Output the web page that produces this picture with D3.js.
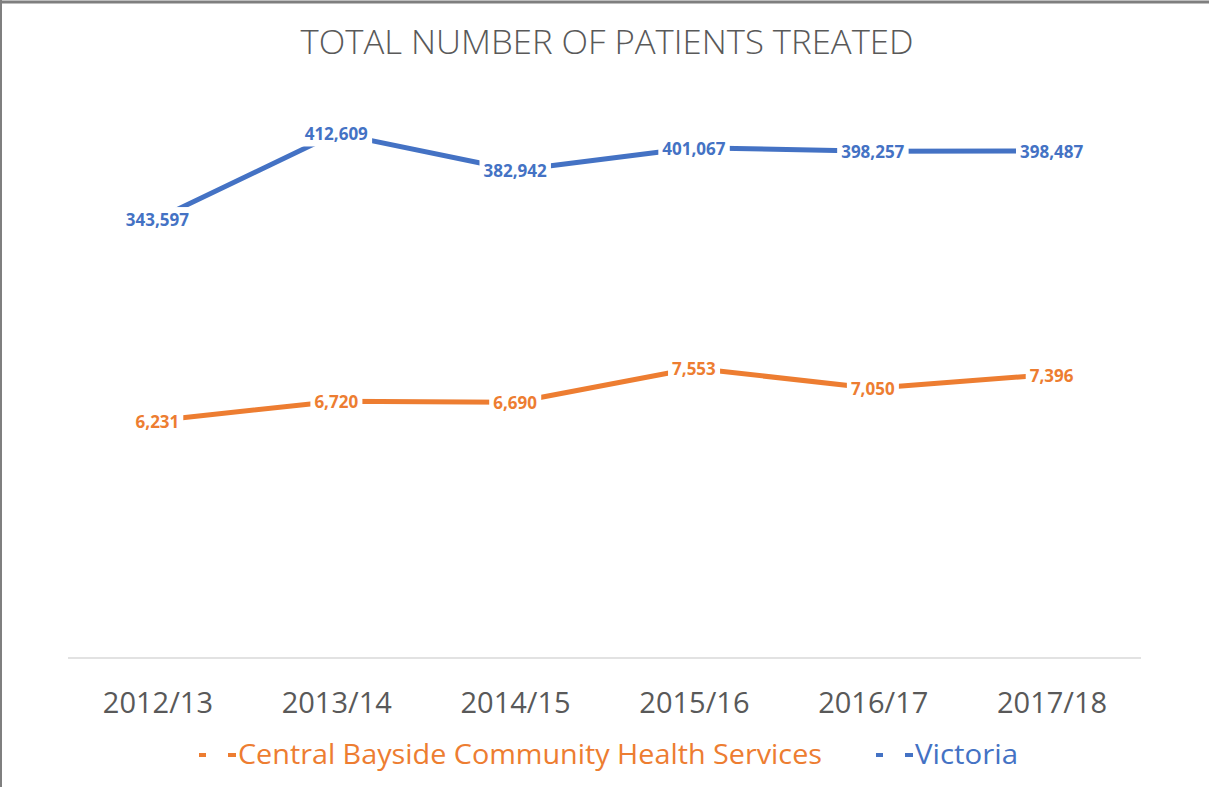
<html lang="en">
<head>
    <title>Total number of patients treated</title>
    <script src="https://d3js.org/d3.v7.min.js" charset="utf-8"></script>
    <style>
        body {
            margin: 0;
            background: #ffffff;
            font-family: "Open Sans", "Noto Sans", sans-serif;
        }
    </style>
</head>
<body>
<script>
    // data
    var years = ["2012/13", "2013/14", "2014/15", "2015/16", "2016/17", "2017/18"];
    var centralBayside = [6231, 6720, 6690, 7553, 7050, 7396];
    var victoria = [343597, 412609, 382942, 401067, 398257, 398487];
    var seriesNames = ["Central Bayside Community Health Services", "Victoria"];
    var seriesColors = ["#ED7D31", "#4472C4"];

    var width = 1209;
    var height = 787;

    var svg = d3.select("body")
        .append("svg")
        .attr("width", width)
        .attr("height", height);

    // frame of the chart area
    svg.append("line")
        .attr("x1", 0).attr("x2", width)
        .attr("y1", 2).attr("y2", 2)
        .attr("stroke", "#7f7f7f").attr("stroke-width", 3);
    svg.append("line")
        .attr("x1", 1).attr("x2", 1)
        .attr("y1", 0).attr("y2", height)
        .attr("stroke", "#7f7f7f").attr("stroke-width", 2);

    // title
    svg.append("text")
        .attr("x", 607)
        .attr("y", 54)
        .attr("text-anchor", "middle")
        .attr("fill", "#595959")
        .attr("font-size", 33)
        .attr("font-weight", 300)
        .attr("textLength", 613)
        .attr("lengthAdjust", "spacingAndGlyphs")
        .text("TOTAL NUMBER OF PATIENTS TREATED");

    var x = d3.scalePoint()
        .domain(years)
        .range([68, 1141])
        .padding(0.5);

    // two separate value axes (hidden), like the original
    var yVic = d3.scaleLinear().domain([0, 450000]).range([645, 87]);
    var yCb = d3.scaleLinear().domain([0, 8000]).range([666, 350.7]);

    // baseline gridline
    svg.append("line")
        .attr("x1", x.range()[0]).attr("x2", x.range()[1])
        .attr("y1", 658).attr("y2", 658)
        .attr("stroke", "#d9d9d9").attr("stroke-width", 1.5);

    // category axis labels
    var xAxis = d3.axisBottom(x).tickSize(0).tickPadding(0);
    var gx = svg.append("g")
        .attr("transform", "translate(0,713)")
        .call(xAxis);
    gx.select(".domain").remove();
    gx.selectAll("text")
        .attr("dy", 0)
        .attr("fill", "#595959")
        .attr("font-size", 29)
        .attr("font-family", "Open Sans, sans-serif");

    function drawSeries(values, yScale, color) {
        var g = svg.append("g");
        var line = d3.line()
            .x(function(d, i) { return x(years[i]); })
            .y(function(d) { return yScale(d); });

        g.append("path")
            .datum(values)
            .attr("fill", "none")
            .attr("stroke", color)
            .attr("stroke-width", 5)
            .attr("stroke-linejoin", "round")
            .attr("d", line);

        var labels = g.selectAll("g.lbl")
            .data(values)
            .enter()
            .append("g")
            .attr("class", "lbl")
            .attr("transform", function(d, i) {
                return "translate(" + x(years[i]) + "," + (yScale(d) + 1) + ")";
            });

        labels.append("text")
            .attr("text-anchor", "middle")
            .attr("dy", "0.36em")
            .attr("font-size", 17)
            .attr("font-weight", "bold")
            .attr("fill", color)
            .text(function(d) { return d3.format(",")(d); });

        // white box behind each label so the line stops short of it
        labels.each(function() {
            var t = d3.select(this).select("text");
            var b = t.node().getBBox();
            d3.select(this).insert("rect", "text")
                .attr("x", b.x - 4)
                .attr("y", b.y - 1)
                .attr("width", b.width + 8)
                .attr("height", b.height + 2)
                .attr("fill", "#ffffff");
        });
    }

    drawSeries(victoria, yVic, seriesColors[1]);
    drawSeries(centralBayside, yCb, seriesColors[0]);

    // legend
    var legendX = [199, 876];
    var legendTextWidth = [584, 103];
    var legend = svg.selectAll("g.legend")
        .data(seriesNames)
        .enter()
        .append("g")
        .attr("class", "legend")
        .attr("transform", function(d, i) { return "translate(" + legendX[i] + ",755)"; });

    legend.append("line")
        .attr("x1", 0).attr("x2", 37)
        .attr("y1", 0).attr("y2", 0)
        .attr("stroke", function(d, i) { return seriesColors[i]; })
        .attr("stroke-width", 4)
        .attr("stroke-dasharray", "7,22,8");

    legend.append("text")
        .attr("x", 39)
        .attr("dy", "0.35em")
        .attr("font-size", 27)
        .attr("fill", function(d, i) { return seriesColors[i]; })
        .attr("textLength", function(d, i) { return legendTextWidth[i]; })
        .attr("lengthAdjust", "spacingAndGlyphs")
        .text(function(d) { return d; });
</script>
</body>
</html>
